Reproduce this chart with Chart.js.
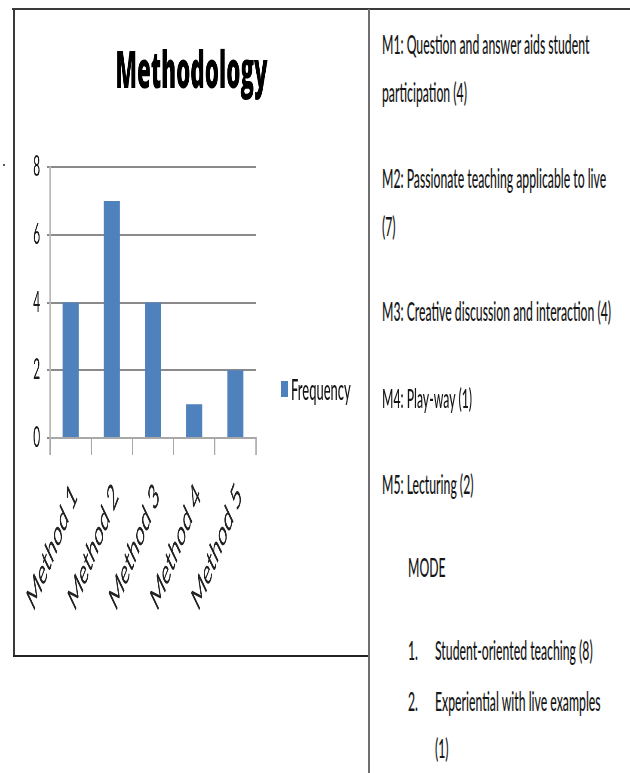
<!DOCTYPE html>
<html>
<head>
<meta charset="utf-8">
<script src="https://cdn.jsdelivr.net/npm/chart.js@4/dist/chart.umd.min.js"></script>
<style>
  html, body { margin: 0; padding: 0; background: #fff; }
  #page { position: relative; width: 630px; height: 773px; overflow: hidden; background: #fff; font-family: Lato, "Open Sans", sans-serif; }
  .rule { position: absolute; }
  #chartBox { position: absolute; left: 15px; top: 11px; transform-origin: 0 0; }
  .txt { position: absolute; white-space: nowrap; color: #161616; font-size: 26px; line-height: 30px; font-weight: 500; transform-origin: 0 50%; }
  #legend { position: absolute; left: 281px; top: 381px; height: 16px; }
  #legendBox { position: absolute; left: 0; top: 0; width: 7px; height: 16px; }
  #legendText { position: absolute; left: 10px; top: -7px; white-space: nowrap; font-size: 29px; line-height: 30px; font-weight: 500; color: #161616; transform-origin: 0 50%; }
</style>
</head>
<body>
<div id="page">
  <div class="rule" style="left:12px; top:8px; width:618px; height:2px; background:#3a3a3a;"></div>
  <div class="rule" style="left:13px; top:9px; width:2px; height:648px; background:#3a3a3a;"></div>
  <div class="rule" style="left:13px; top:655px; width:357px; height:2px; background:#222;"></div>
  <div class="rule" style="left:368px; top:9px; width:2px; height:764px; background:#6e6e6e;"></div>
  <div class="rule" style="left:3px; top:164px; width:2px; height:2px; background:#555;"></div>

  <div id="chartBox"><canvas id="chart"></canvas></div>
  <div id="legend"><div id="legendBox"></div><div id="legendText"></div></div>
  <div id="notes"></div>
</div>
<script>
// Survey results: how often each teaching method was named
const categories = ['Method 1', 'Method 2', 'Method 3', 'Method 4', 'Method 5'];
const frequency = [4, 7, 4, 1, 2];
const yTicks = [0, 2, 4, 6, 8];
const seriesLabel = 'Frequency';
const chartTitle = 'Methodology';

// Key to the methods, and the preferred teaching modes
const methodNotes = [
  'M1: Question and answer aids student',
  'participation (4)',
  'M2: Passionate teaching applicable  to live',
  '(7)',
  'M3: Creative discussion and interaction (4)',
  'M4: Play-way (1)',
  'M5: Lecturing (2)'
];
const modeHeading = 'MODE';
const modeNumbers = ['1.', '2.'];
const modeItems = ['Student-oriented  teaching (8)', 'Experiential with live examples', '(1)'];

const SQUEEZE = 0.43;      // horizontal squeeze of the chart drawing
const TEXT_SQUEEZE = 0.47; // horizontal squeeze of the side text
const BAR_COLOR = '#4f81bd';

// chart box on the page, in page pixels
const BOX_W = 353, BOX_H = 644;
const PLOT_LEFT = 35, PLOT_RIGHT = 241, PLOT_BOTTOM = 427;

const W = Math.round(BOX_W / SQUEEZE), H = BOX_H;
const canvas = document.getElementById('chart');
canvas.width = W; canvas.height = H;
const box = document.getElementById('chartBox');
box.style.width = W + 'px'; box.style.height = H + 'px';
box.style.transform = 'scaleX(' + SQUEEZE + ')';

Chart.defaults.font.family = 'Lato';

// keep the title centred over the whole chart box, legend space included
const titleSpan = {
  id: 'titleSpan',
  afterLayout(chart) {
    const t = chart.titleBlock;
    if (t) { t.left = 0; t.right = chart.width; t.width = chart.width; }
  }
};

new Chart(canvas, {
  type: 'bar',
  data: {
    labels: categories,
    datasets: [{
      label: seriesLabel,
      data: frequency,
      backgroundColor: BAR_COLOR,
      borderWidth: 0,
      categoryPercentage: 1,
      barPercentage: 0.39
    }]
  },
  plugins: [titleSpan],
  options: {
    responsive: false,
    animation: false,
    devicePixelRatio: 1,
    layout: { padding: { left: 0, top: 0, bottom: 0, right: W - PLOT_RIGHT / SQUEEZE } },
    plugins: {
      legend: { display: false },
      tooltip: { enabled: false },
      title: {
        display: true,
        text: chartTitle,
        color: '#000',
        font: { family: 'Open Sans', size: 52, weight: '800' },
        padding: { top: 31, bottom: 62.6 }
      }
    },
    scales: {
      x: {
        afterFit: s => { s.height = H - PLOT_BOTTOM; s.paddingLeft = 0; s.paddingRight = 0; },
        grid: { drawOnChartArea: false, drawTicks: true, tickLength: 17, color: '#a8a8a8', lineWidth: 3, offset: true },
        border: { color: '#a8a8a8', width: 2 },
        ticks: { minRotation: 48, maxRotation: 48, autoSkip: false, padding: 20, labelOffset: 9, color: '#222', font: { size: 36 } }
      },
      y: {
        min: 0,
        max: 8,
        afterFit: s => { s.width = PLOT_LEFT / SQUEEZE; },
        afterBuildTicks: s => { s.ticks = yTicks.map(v => ({ value: v })); },
        grid: { color: '#8a8a8a', lineWidth: 2, tickLength: 7, drawTicks: true },
        border: { color: '#b8b8b8', width: 3 },
        ticks: { padding: 16, color: '#1a1a1a', font: { size: 28 } }
      }
    }
  }
});

// legend key
document.getElementById('legendBox').style.background = BAR_COLOR;
const lt = document.getElementById('legendText');
lt.textContent = seriesLabel;
lt.style.transform = 'scaleX(' + TEXT_SQUEEZE * 0.95 + ')';

// side text
const notes = document.getElementById('notes');
function addLine(text, left, capCenter) {
  const d = document.createElement('div');
  d.className = 'txt';
  d.textContent = text;
  d.style.left = left + 'px';
  d.style.top = (capCenter - 16) + 'px';
  d.style.transform = 'scaleX(' + TEXT_SQUEEZE + ')';
  notes.appendChild(d);
}
const noteCenters = [45, 93, 179, 227, 312, 399, 485];
methodNotes.forEach((t, i) => addLine(t, 382, noteCenters[i]));
addLine(modeHeading, 408, 568);
addLine(modeNumbers[0], 408, 651);
addLine(modeNumbers[1], 408, 702);
addLine(modeItems[0], 435, 651);
addLine(modeItems[1], 435, 702);
addLine(modeItems[2], 435, 749);
</script>
</body>
</html>
